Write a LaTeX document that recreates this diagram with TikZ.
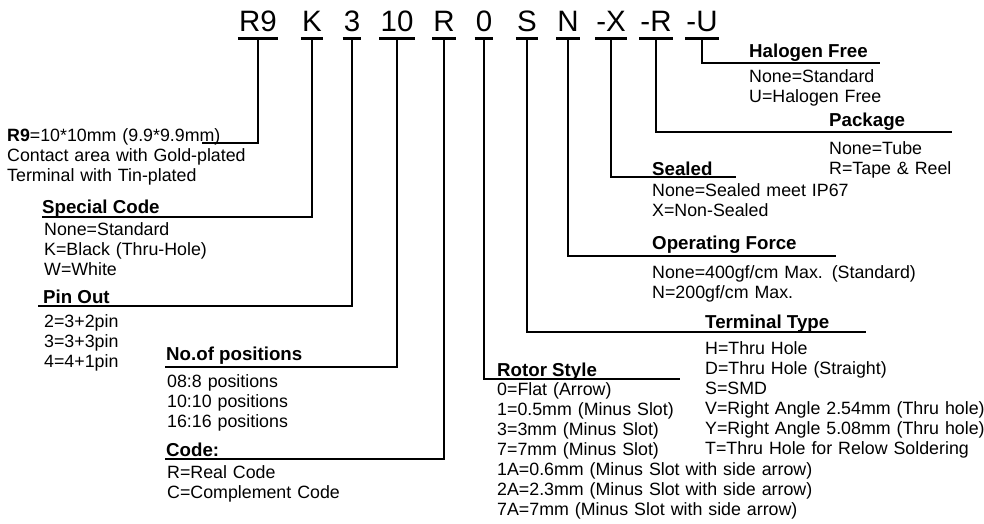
\documentclass[tikz,border=0pt]{standalone}
\usepackage{fontspec}
\setmainfont{Liberation Sans}
\usepackage{tikz}
\usetikzlibrary{positioning}
\tikzset{
    code/.style={font=\fontsize{29.5}{32}\selectfont, inner xsep=1pt, inner ysep=6pt, anchor=base},
    title/.style={font=\fontsize{18.7}{20}\selectfont\bfseries, inner sep=0pt, anchor=base west},
    items/.style={font=\fontsize{17.8}{20}\selectfont, inner sep=0pt, anchor=base west, text width=12cm, align=left},
    rule/.style={line width=2.7pt}
}

\begin{document}
\begin{tikzpicture}[x=1pt, y=-1pt]
    \useasboundingbox (0,0) rectangle (984,524);

    % part number
    \node (r9) [code] at (258,32) {R9};
    \node (k) [code] at (312,32) {K};
    \node (pins) [code] at (352,32) {3};
    \node (pos) [code] at (397,32) {10};
    \node (rc) [code] at (444,32) {R};
    \node (rotor) [code] at (484,32) {0};
    \node (term) [code] at (527,32) {S};
    \node (force) [code] at (568,32) {N};
    \node (seal) [code] at (611,32) {-X};
    \node (pack) [code] at (656,32) {-R};
    \node (halo) [code] at (702,32) {-U};
    \foreach \c in {r9, k, pins, pos, rc, rotor, term, force, seal, pack, halo}
        \draw [rule] (\c.south west) -- (\c.south east);

    % left side
    \node (r9txt) [items] at (7,141.5) {\textbf{R9}=10*10mm (9.9*9.9mm)\\Contact area with Gold-plated\\Terminal with Tin-plated};
    \coordinate (r9end) at (202,143);

    \node (spec) [title] at (42,213) {Special Code};
    \node (spectxt) [items] at (44,235.5) {None=Standard\\K=Black (Thru-Hole)\\W=White};
    \coordinate (specend) at (42,217);

    \node (pin) [title] at (43,303) {Pin Out};
    \node (pintxt) [items] at (44,327.5) {2=3+2pin\\3=3+3pin\\4=4+1pin};
    \coordinate (pinend) at (38,306);

    \node (npos) [title] at (166,360.5) {No.of positions};
    \node (npostxt) [items] at (167,387.5) {08:8 positions\\10:10 positions\\16:16 positions};
    \coordinate (nposend) at (165,367);

    \node (codet) [title] at (166,456) {Code:};
    \node (codetxt) [items] at (167,478) {R=Real Code\\C=Complement Code};
    \coordinate (codeend) at (165,459);

    % right side
    \node (rot) [title] at (497,376.5) {Rotor Style};
    \node (rottxt) [items] at (497,395) {0=Flat (Arrow)\\1=0.5mm (Minus Slot)\\3=3mm (Minus Slot)\\7=7mm (Minus Slot)\\1A=0.6mm (Minus Slot with side arrow)\\2A=2.3mm (Minus Slot with side arrow)\\7A=7mm (Minus Slot with side arrow)};
    \coordinate (rotend) at (680,379);

    \node (ter) [title] at (705,328) {Terminal Type};
    \node (tertxt) [items] at (705,354) {H=Thru Hole\\D=Thru Hole (Straight)\\S=SMD\\V=Right Angle 2.54mm (Thru hole)\\Y=Right Angle 5.08mm (Thru hole)\\T=Thru Hole for Relow Soldering};
    \coordinate (terend) at (866,332);

    \node (op) [title] at (652,249.5) {Operating Force};
    \node (optxt) [items] at (652,278) {None=400gf/cm Max. (Standard)\\N=200gf/cm Max.};
    \coordinate (opend) at (836,256);

    \node (sl) [title] at (652,175.5) {Sealed};
    \node (sltxt) [items] at (652,196.5) {None=Sealed meet IP67\\X=Non-Sealed};
    \coordinate (slend) at (736,177);

    \node (pk) [title] at (829,126.5) {Package};
    \node (pktxt) [items] at (829,154) {None=Tube\\R=Tape \& Reel};
    \coordinate (pkend) at (952,132);

    \node (hf) [title] at (749,57.3) {Halogen Free};
    \node (hftxt) [items] at (749,82.5) {None=Standard\\U=Halogen Free};
    \coordinate (hfend) at (880,63);

    % leaders
    \draw [rule] (r9.south) |- (r9end);
    \draw [rule] (k.south) |- (specend);
    \draw [rule] (pins.south) |- (pinend);
    \draw [rule] (pos.south) |- (nposend);
    \draw [rule] (rc.south) |- (codeend);
    \draw [rule] (rotor.south) |- (rotend);
    \draw [rule] (term.south) |- (terend);
    \draw [rule] (force.south) |- (opend);
    \draw [rule] (seal.south) |- (slend);
    \draw [rule] (pack.south) |- (pkend);
    \draw [rule] (halo.south) |- (hfend);
\end{tikzpicture}
\end{document}
